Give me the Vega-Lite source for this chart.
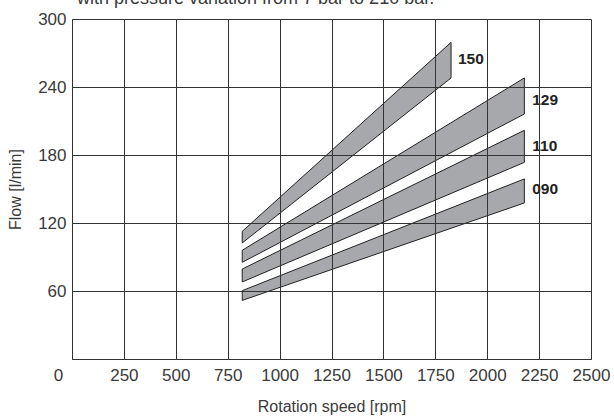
{
  "$schema": "https://vega.github.io/schema/vega-lite/v6.json",
  "width": 519,
  "height": 340,
  "autosize": "none",
  "padding": {"left": 72, "top": 19, "right": 23, "bottom": 58},
  "background": "white",
  "config": {
    "view": {"stroke": null},
    "font": "Liberation Sans",
    "axis": {"labelFont": "Liberation Sans", "titleFont": "Liberation Sans", "labelColor": "#3a3a3a", "titleColor": "#3a3a3a", "titleFontWeight": "normal"}
  },
  "title": {
    "text": "with pressure variation from 7 bar to 210 bar.",
    "anchor": "start",
    "frame": "group",
    "baseline": "alphabetic",
    "offset": 0,
    "dy": 12,
    "dx": 5,
    "fontSize": 18,
    "fontWeight": "normal",
    "font": "Liberation Sans",
    "color": "#3a3a3a"
  },
  "datasets": {
    "bands": [
      {"model": "150", "rpm": 820, "lo": 102.4, "hi": 112.6},
      {"model": "150", "rpm": 1826, "lo": 248, "hi": 279.4},
      {"model": "129", "rpm": 820, "lo": 85.3, "hi": 95.9},
      {"model": "129", "rpm": 2179, "lo": 216.2, "hi": 248},
      {"model": "110", "rpm": 820, "lo": 68, "hi": 79.4},
      {"model": "110", "rpm": 2179, "lo": 173.5, "hi": 201.8},
      {"model": "090", "rpm": 820, "lo": 51.7, "hi": 60.3},
      {"model": "090", "rpm": 2179, "lo": 137.7, "hi": 158.9}
    ],
    "labels": [
      {"model": "150", "rpm": 1859, "flow": 265},
      {"model": "129", "rpm": 2217, "flow": 228.8},
      {"model": "110", "rpm": 2217, "flow": 188.2},
      {"model": "090", "rpm": 2217, "flow": 150.3}
    ]
  },
  "layer": [
    {
      "data": {"name": "bands"},
      "mark": {"type": "area", "fill": "#a7a8ab", "stroke": "#222222", "strokeWidth": 1, "interpolate": "linear", "opacity": 1},
      "encoding": {
        "x": {
          "field": "rpm", "type": "quantitative",
          "scale": {"domain": [0, 2500], "nice": false, "zero": false},
          "axis": {
            "values": [0, 250, 500, 750, 1000, 1250, 1500, 1750, 2000, 2250, 2500],
            "format": "d",
            "title": "Rotation speed [rpm]",
            "titleFontSize": 16,
            "titlePadding": 15,
            "labelFontSize": 17,
            "labelPadding": 8,
            "labelFlush": false,
            "labelOverlap": false,
            "labelOffset": {"condition": {"test": "datum.value === 0", "value": -14}, "value": 0},
            "ticks": false,
            "grid": true,
            "gridColor": "#333333",
            "gridWidth": 1,
            "gridOpacity": 1,
            "domainColor": "#333333",
            "zindex": 1
          }
        },
        "y": {
          "field": "lo", "type": "quantitative",
          "scale": {"domain": [0, 300], "nice": false, "zero": false},
          "axis": {
            "values": [0, 60, 120, 180, 240, 300],
            "format": "d",
            "labelExpr": "datum.value === 0 ? '' : datum.label",
            "title": "Flow [l/min]",
            "titleFontSize": 16,
            "titlePadding": 14,
            "labelFontSize": 17,
            "labelPadding": 6,
            "labelFlush": false,
            "labelOverlap": false,
            "ticks": false,
            "grid": true,
            "gridColor": "#333333",
            "gridWidth": 1,
            "gridOpacity": 1,
            "domainColor": "#333333",
            "zindex": 1
          }
        },
        "y2": {"field": "hi"},
        "detail": {"field": "model"}
      }
    },
    {
      "data": {"name": "labels"},
      "mark": {"type": "text", "align": "left", "baseline": "middle", "fontWeight": "bold", "fontSize": 15.5, "font": "Liberation Sans", "color": "#222222"},
      "encoding": {
        "x": {"field": "rpm", "type": "quantitative"},
        "y": {"field": "flow", "type": "quantitative"},
        "text": {"field": "model"}
      }
    }
  ]
}
